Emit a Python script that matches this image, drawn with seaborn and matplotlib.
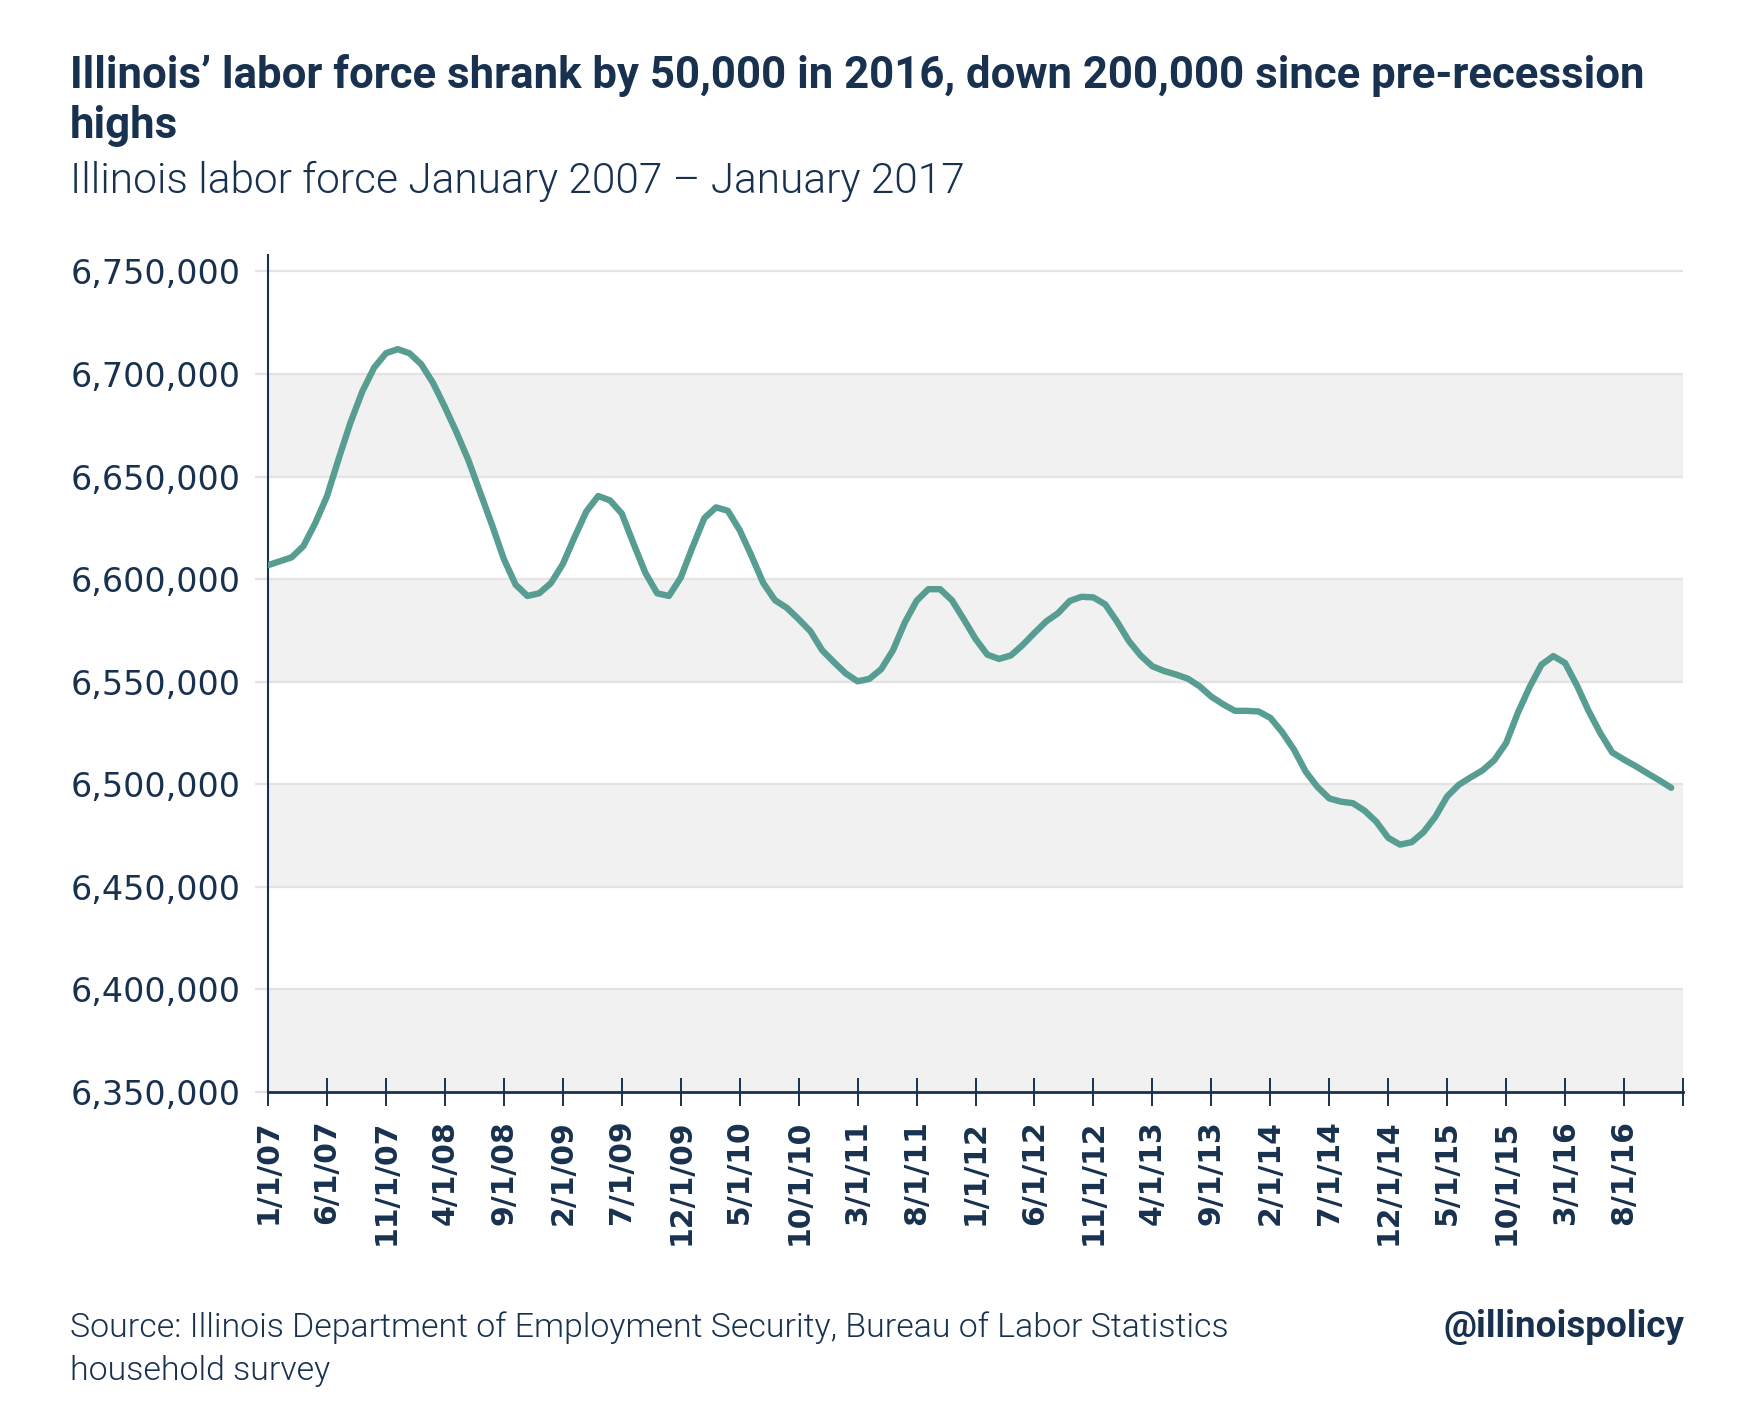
import pandas as pd
import matplotlib.pyplot as plt
import seaborn as sns
from matplotlib.ticker import FuncFormatter

# Illinois labor force, monthly Jan 2007 - Dec 2016
labor_force = [
    6606800, 6608700, 6610600, 6616100, 6627200, 6640400, 6658800, 6676400, 6691500, 6703100,
    6710100, 6712100, 6710100, 6704700, 6695600, 6683900, 6671400, 6657900, 6642100, 6626400,
    6609800, 6597300, 6591800, 6593100, 6598100, 6607300, 6620500, 6633000, 6640500, 6638400,
    6632000, 6617300, 6603100, 6593100, 6591800, 6600700, 6615600, 6629700, 6635000, 6633300,
    6623900, 6611400, 6598100, 6589700, 6586000, 6580500, 6574600, 6565300, 6559500, 6554000,
    6550200, 6551400, 6556100, 6565300, 6578800, 6589400, 6595100, 6595100, 6589700, 6580500,
    6570900, 6563200, 6561100, 6562800, 6567900, 6573800, 6579400, 6583400, 6589400, 6591400,
    6591100, 6587700, 6579300, 6569900, 6562800, 6557500, 6555200, 6553500, 6551500, 6547800,
    6542700, 6539000, 6535800, 6535800, 6535500, 6532400, 6525500, 6517000, 6506200, 6498700,
    6493100, 6491500, 6490800, 6487100, 6481700, 6473900, 6470600, 6471800, 6476700, 6484200,
    6494100, 6499800, 6503400, 6506800, 6511800, 6520100, 6534900, 6547500, 6558300, 6562500,
    6559100, 6548200, 6535700, 6524800, 6515500, 6512000, 6508800, 6505300, 6501900, 6498300,
]
months = list(range(len(labor_force)))

# x ticks every 5 months, last one (1/1/17) unlabeled
tick_pos = list(range(0, 121, 5))
tick_labels = ["1/1/07", "6/1/07", "11/1/07", "4/1/08", "9/1/08", "2/1/09", "7/1/09",
               "12/1/09", "5/1/10", "10/1/10", "3/1/11", "8/1/11", "1/1/12", "6/1/12",
               "11/1/12", "4/1/13", "9/1/13", "2/1/14", "7/1/14", "12/1/14", "5/1/15",
               "10/1/15", "3/1/16", "8/1/16", ""]

y_ticks = [6350000, 6400000, 6450000, 6500000, 6550000, 6600000, 6650000, 6700000, 6750000]

navy = "#17314f"
teal = "#589d92"
band = "#f1f1f1"
grid = "#e3e3e3"

df = pd.DataFrame({"month": months, "labor_force": labor_force})

sns.set_theme(style="white")
plt.rcParams["font.family"] = ["DejaVu Sans"]

W, H = 1751, 1421
fig = plt.figure(figsize=(W / 100, H / 100), dpi=100)
ax = fig.add_axes([268 / W, 1 - 1092 / H, (1683 - 268) / W, (1092 - 255) / H])

# alternating grey bands + gridlines
for i in range(len(y_ticks) - 1):
    if i % 2 == 0:
        ax.axhspan(y_ticks[i], y_ticks[i + 1], color=band, lw=0, zorder=0)
for y in y_ticks[1:]:
    ax.axhline(y, color=grid, lw=1.6, zorder=1)

sns.lineplot(data=df, x="month", y="labor_force", ax=ax, color=teal, lw=4.6,
             zorder=3, solid_capstyle="round")

ax.set_xlim(0, 120)
ax.set_ylim(6350000, 6758000)
ax.set_xlabel("")
ax.set_ylabel("")

ax.set_yticks(y_ticks)
ax.yaxis.set_major_formatter(FuncFormatter(lambda v, p: f"{v:,.0f}"))
ax.tick_params(axis="y", direction="out", length=9.5, width=1.6, color=grid,
               labelsize=24, labelcolor=navy, pad=10, left=True)
ax.yaxis.get_major_ticks()[0].tick1line.set_color(navy)

ax.set_xticks(tick_pos)
ax.set_xticklabels(tick_labels, rotation=90, fontweight="bold")
ax.tick_params(axis="x", direction="inout", length=20, width=1.4, color=navy,
               labelsize=21.5, labelcolor=navy, pad=10, bottom=True)

sns.despine(ax=ax)
ax.spines["left"].set_color(navy)
ax.spines["left"].set_linewidth(1.5)
ax.spines["bottom"].set_color(navy)
ax.spines["bottom"].set_linewidth(2)

# titles
fig.text(70 / W, 1 - 88 / H, "Illinois’ labor force shrank by 50,000 in 2016, down 200,000 since pre-recession",
         fontsize=31.5, fontweight="bold", color=navy, family=["Roboto", "DejaVu Sans"], va="baseline")
fig.text(70 / W, 1 - 138 / H, "highs",
         fontsize=31.5, fontweight="bold", color=navy, family=["Roboto", "DejaVu Sans"], va="baseline")
fig.text(70 / W, 1 - 193 / H, "Illinois labor force January 2007 – January 2017",
         fontsize=30.5, fontweight=300, color=navy, family=["Roboto", "DejaVu Sans"], va="baseline")

# footer
fig.text(70 / W, 1 - 1337 / H, "Source: Illinois Department of Employment Security, Bureau of Labor Statistics",
         fontsize=24.4, fontweight=300, color=navy, family=["Roboto", "DejaVu Sans"], va="baseline")
fig.text(70 / W, 1 - 1380 / H, "household survey",
         fontsize=24.4, fontweight=300, color=navy, family=["Roboto", "DejaVu Sans"], va="baseline")
fig.text(1684 / W, 1 - 1337 / H, "@illinoispolicy",
         fontsize=26.5, fontweight="bold", color=navy, family=["Roboto", "DejaVu Sans"],
         va="baseline", ha="right")

fig.savefig("out.png", dpi=100)
